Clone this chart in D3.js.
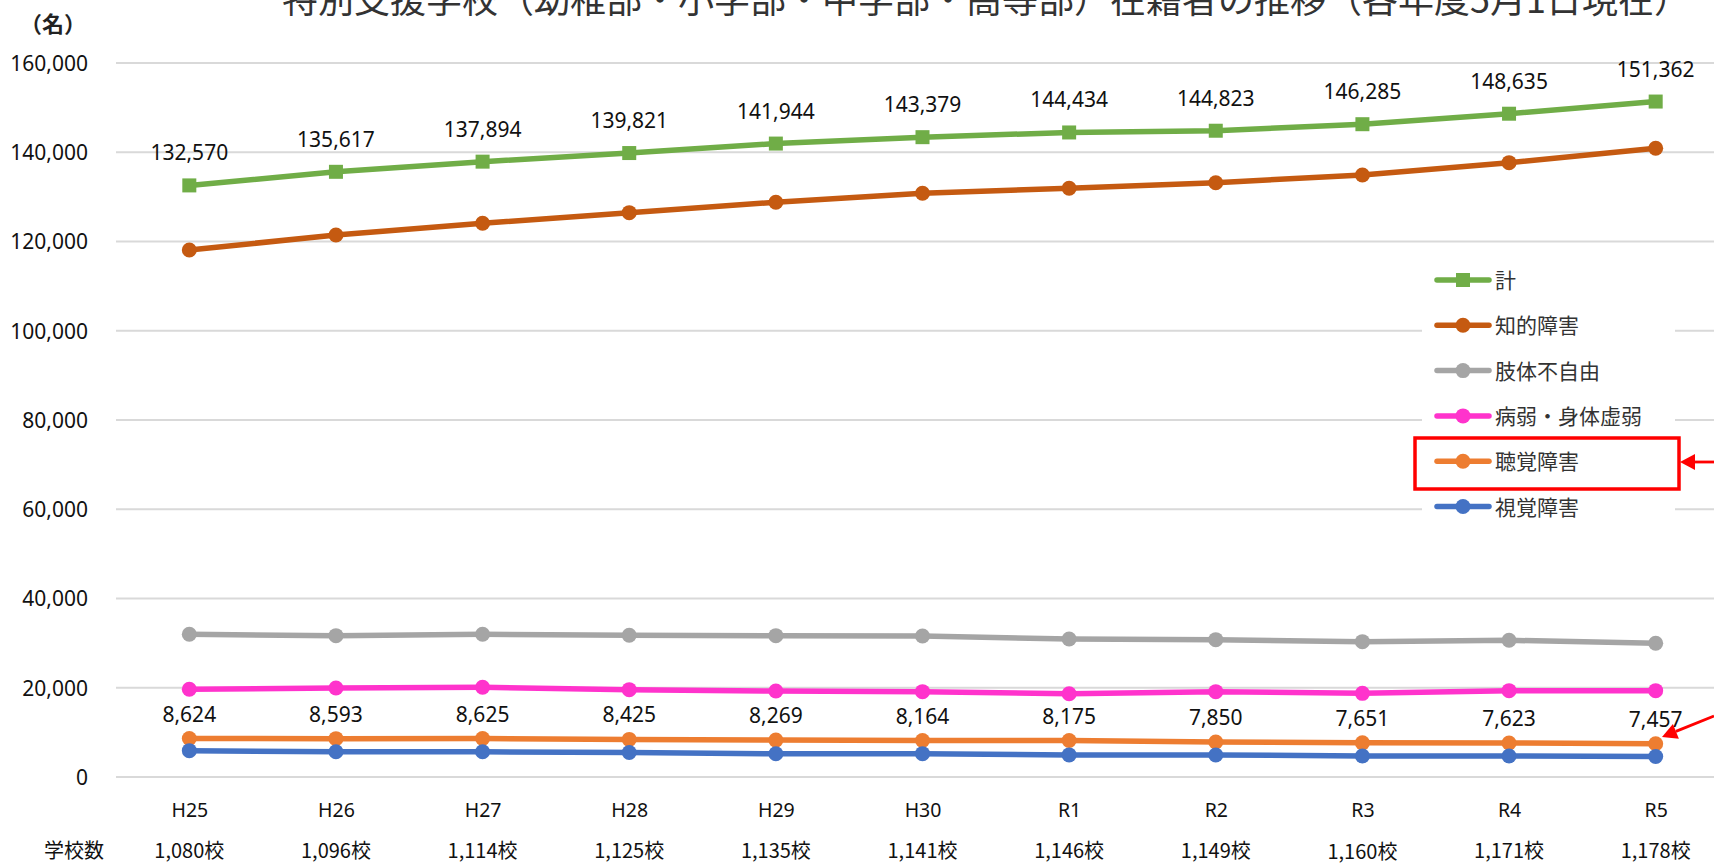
<!DOCTYPE html>
<html><head><meta charset="utf-8">
<script src="https://cdnjs.cloudflare.com/ajax/libs/d3/7.8.5/d3.min.js"></script>
<style>
html,body{margin:0;padding:0;background:#fff;overflow:hidden;}
svg{display:block;}
</style></head>
<body>
<svg id="chart" width="1714" height="865"></svg>
<script>
const titleText = "特別支援学校（幼稚部・小学部・中学部・高等部）在籍者の推移（各年度5月1日現在）";
const unitLabel = "（名）";
const categories = ["H25","H26","H27","H28","H29","H30","R1","R2","R3","R4","R5"];
const schoolCounts = ["1,080校","1,096校","1,114校","1,125校","1,135校","1,141校","1,146校","1,149校","1,160校","1,171校","1,178校"];
const schoolRowLabel = "学校数";
const yTicks = [0,20000,40000,60000,80000,100000,120000,140000,160000];

const seriesNames = ["計","知的障害","肢体不自由","病弱・身体虚弱","聴覚障害","視覚障害"];
const totalValues        = [132570,135617,137894,139821,141944,143379,144434,144823,146285,148635,151362];
const intellectualValues = [118100,121460,124080,126460,128790,130800,131920,133180,134910,137670,140890];
const physicalValues     = [31980,31670,31980,31750,31670,31600,30930,30780,30330,30630,29960];
const healthValues       = [19650,19950,20100,19570,19270,19120,18670,19120,18750,19350,19350];
const hearingValues      = [8624,8593,8625,8425,8269,8164,8175,7850,7651,7623,7457];
const visualValues       = [5900,5650,5650,5500,5200,5230,4950,4930,4720,4720,4580];
const seriesColors = ["#70AD47","#C55A11","#A5A5A5","#FF33CC","#ED7D31","#4472C4"];

const series = [
  {name: seriesNames[0], values: totalValues, color: seriesColors[0], marker: "square", labels: true, labelGap: 25},
  {name: seriesNames[1], values: intellectualValues, color: seriesColors[1], marker: "circle"},
  {name: seriesNames[2], values: physicalValues, color: seriesColors[2], marker: "circle"},
  {name: seriesNames[3], values: healthValues, color: seriesColors[3], marker: "circle"},
  {name: seriesNames[4], values: hearingValues, color: seriesColors[4], marker: "circle", labels: true, labelGap: 17},
  {name: seriesNames[5], values: visualValues, color: seriesColors[5], marker: "circle"}
];

const svg = d3.select("#chart");
svg.append("rect").attr("width",1714).attr("height",865).attr("fill","#fff");

const x = d3.scalePoint().domain(categories).range([116, 1729]).padding(0.5);
const y = d3.scaleLinear().domain([0,160000]).range([777, 63]);
const fmt = d3.format(",");
const numFont = "'Noto Sans', 'Open Sans', sans-serif";
const jpFont = "'Noto Sans CJK JP', 'Noto Sans', sans-serif";

// title (partially cut at top, as in the reference)
svg.append("text").attr("x",282).attr("y",13)
  .attr("font-family",jpFont).attr("font-size",36).attr("fill","#333")
  .text(titleText);

svg.append("text").attr("x",20).attr("y",32)
  .attr("font-family",jpFont).attr("font-size",22).attr("font-weight","bold").attr("fill","#222")
  .text(unitLabel);

// gridlines
svg.append("g").selectAll("line").data(yTicks).join("line")
  .attr("x1",116).attr("x2",1714)
  .attr("y1",d=>y(d)).attr("y2",d=>y(d))
  .attr("stroke","#D9D9D9").attr("stroke-width",2);

// y axis labels
const yAxis = d3.axisLeft(y).tickValues(yTicks).tickFormat(fmt).tickSize(0).tickPadding(0);
const yg = svg.append("g").attr("transform","translate(88,0)").call(yAxis);
yg.select(".domain").remove();
yg.selectAll("text").attr("font-family",numFont).attr("font-size",21).attr("fill","#111").attr("dy","0.35em");

// x axis labels
const xAxis = d3.axisBottom(x).tickSize(0).tickPadding(0);
const xg = svg.append("g").attr("transform","translate(0,817)").call(xAxis);
xg.select(".domain").remove();
xg.selectAll("text").attr("font-family",numFont).attr("font-size",19.5).attr("fill","#111").attr("dy","0");

// school counts row
svg.append("text").attr("x",44).attr("y",858)
  .attr("font-family",jpFont).attr("font-size",20).attr("fill","#111").text(schoolRowLabel);
svg.append("g").selectAll("text").data(categories).join("text")
  .attr("x",d=>x(d)).attr("y",(d,i)=> i===8 ? 859 : 858).attr("text-anchor","middle")
  .attr("font-family",jpFont).attr("font-size",20).attr("fill","#111")
  .text((d,i)=>schoolCounts[i]);

// legend background
const legX = 1422, legY = 250;
svg.append("rect").attr("x",legX).attr("y",legY).attr("width",253).attr("height",280).attr("fill","#fff");

// series lines
const line = d3.line().x((d,i)=>x(categories[i])).y(d=>y(d));
series.forEach(s=>{
  const g = svg.append("g");
  g.append("path").datum(s.values).attr("d",line)
    .attr("fill","none").attr("stroke",s.color).attr("stroke-width",5.5)
    .attr("stroke-linejoin","round").attr("stroke-linecap","round");
  if (s.marker === "square") {
    g.selectAll("rect").data(s.values).join("rect")
      .attr("x",(d,i)=>x(categories[i])-7).attr("y",d=>y(d)-7)
      .attr("width",14).attr("height",14).attr("fill",s.color);
  } else {
    g.selectAll("circle").data(s.values).join("circle")
      .attr("cx",(d,i)=>x(categories[i])).attr("cy",d=>y(d)).attr("r",7.5).attr("fill",s.color);
  }
  if (s.labels) {
    g.selectAll("text").data(s.values).join("text")
      .attr("x",(d,i)=>x(categories[i])).attr("y",d=>y(d)-s.labelGap)
      .attr("text-anchor","middle").attr("font-family",numFont).attr("font-size",21).attr("fill","#111")
      .text(d=>fmt(d));
  }
});

// legend
const legRowY0 = 280, legRowStep = 45.3;
const lg = svg.append("g");
series.forEach((s,i)=>{
  const cy = legRowY0 + i*legRowStep;
  lg.append("line").attr("x1",1437).attr("x2",1489).attr("y1",cy).attr("y2",cy)
    .attr("stroke",s.color).attr("stroke-width",5.5).attr("stroke-linecap","round");
  if (s.marker === "square") {
    lg.append("rect").attr("x",1456).attr("y",cy-7).attr("width",14).attr("height",14).attr("fill",s.color);
  } else {
    lg.append("circle").attr("cx",1463).attr("cy",cy).attr("r",7.5).attr("fill",s.color);
  }
  lg.append("text").attr("x",1495).attr("y",cy+8)
    .attr("font-family",jpFont).attr("font-size",21).attr("fill","#333").text(s.name);
});

// red highlight box and arrows
svg.append("rect").attr("x",1415).attr("y",438).attr("width",264).attr("height",51)
  .attr("fill","none").attr("stroke","#FF0000").attr("stroke-width",3.5);

function arrow(x1,y1,x2,y2){
  const ang = Math.atan2(y2-y1,x2-x1);
  const L = 15, W = 8;
  const bx = x2 - L*Math.cos(ang), by = y2 - L*Math.sin(ang);
  svg.append("line").attr("x1",x1).attr("y1",y1).attr("x2",bx).attr("y2",by)
    .attr("stroke","#FF0000").attr("stroke-width",2.8);
  const px = -Math.sin(ang), py = Math.cos(ang);
  svg.append("path").attr("d",`M${x2},${y2}L${bx+px*W},${by+py*W}L${bx-px*W},${by-py*W}Z`).attr("fill","#FF0000");
}
arrow(1714,462,1680,462);
arrow(1714,716,1662,737);
</script>
</body></html>
